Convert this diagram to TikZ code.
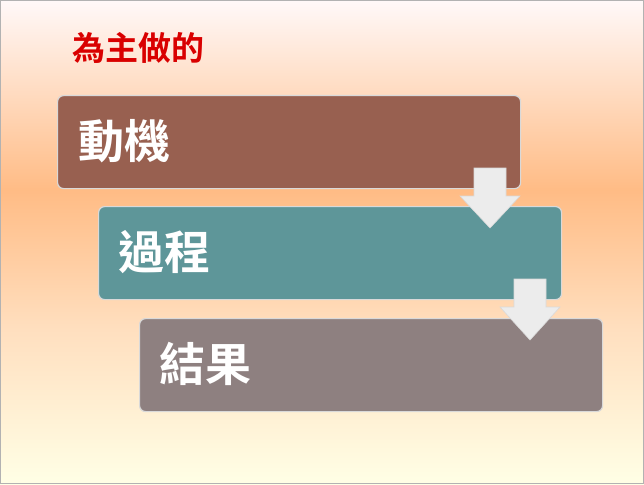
\documentclass[tikz,border=0pt]{standalone}
\usepackage{fontspec}
\newfontfamily\cjk{Noto Sans CJK TC}
\newfontfamily\cjkb{Noto Sans CJK TC Bold}
\begin{document}
\begin{tikzpicture}[x=1pt,y=-1pt,
  stepbox/.style={draw=white!85!black,line width=1.2pt,rounded corners=6pt,minimum width=463pt,minimum height=93pt,anchor=north west,inner sep=0pt},
  lbl/.style={text=white,font=\cjkb\fontsize{46}{48}\selectfont,anchor=west,inner sep=0pt},
  darrow/.style={fill=white!85!gray,draw=white!70!gray,line width=0.6pt}]
\useasboundingbox (0,0) rectangle (644,484);
\shade[top color=white!90!pink,bottom color=orange!45!white!95!red] (0,0) rectangle (644,190);
\shade[top color=orange!45!white!95!red,bottom color=orange!25!white] (0,190) rectangle (644,330);
\shade[top color=orange!25!white,bottom color=white!90!yellow] (0,330) rectangle (644,484);
\draw[gray!60] (0.5,0.5) rectangle (643.5,483.5);
\node[anchor=west,inner sep=0pt,text=red!85!black,font=\cjkb\fontsize{33}{35}\selectfont] (t) at (72,48) {為主做的};
\node[stepbox,fill={rgb,255:red,152;green,96;blue,80}] (a) at (57,95) {};
\node[stepbox,fill={rgb,255:red,94;green,150;blue,153}] (b) at (98,206) {};
\node[stepbox,fill={rgb,255:red,142;green,128;blue,128}] (c) at (139,318) {};
\node[lbl] (ta) at (78,141) {動機};
\node[lbl] (tb) at (118,252) {過程};
\node[lbl] (tc) at (159,364) {結果};
\draw[darrow] (474,168)--(506,168)--(506,196)--(520,196)--(490,228)--(460,196)--(474,196)--cycle;
\draw[darrow] (514,279)--(546,279)--(546,307)--(560,307)--(530,340)--(500,307)--(514,307)--cycle;
\end{tikzpicture}
\end{document}
